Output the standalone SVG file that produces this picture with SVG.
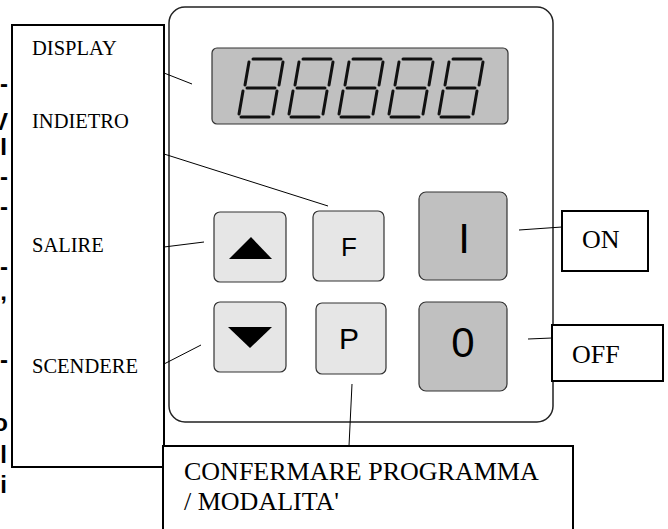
<svg xmlns="http://www.w3.org/2000/svg" width="668" height="529" viewBox="0 0 668 529">
<defs>
<style>
.lbl{font-family:"Liberation Serif","Times New Roman",serif;fill:#000}
.key{font-family:"Liberation Sans",Arial,sans-serif;fill:#000;text-anchor:middle}
.frag{font-family:"Liberation Sans",Arial,sans-serif;font-weight:bold;font-size:24px;fill:#000;text-anchor:end}
.box{fill:#fff;stroke:#000;stroke-width:2}
.btn{fill:#e6e6e6;stroke:#333;stroke-width:1.2}
.btnd{fill:#c0c0c0;stroke:#333;stroke-width:1.2}
.seg{stroke:#111;stroke-width:3;stroke-linecap:round;fill:none}
.conn{stroke:#000;stroke-width:1;fill:none}
</style>
<g id="digit">
<line class="seg" x1="253" y1="59" x2="281" y2="59"/>
<line class="seg" x1="249" y1="62" x2="245" y2="85"/>
<line class="seg" x1="283" y1="62" x2="279" y2="85"/>
<line class="seg" x1="247" y1="88" x2="275" y2="88"/>
<line class="seg" x1="243" y1="91" x2="239" y2="114"/>
<line class="seg" x1="277" y1="91" x2="273" y2="114"/>
<line class="seg" x1="241" y1="117" x2="269" y2="117"/>
</g>
</defs>
<rect width="668" height="529" fill="#fff"/>
<g id="fragments">
<text class="frag" x="8" y="92">-</text>
<text class="frag" x="8" y="130">V</text>
<text class="frag" x="7" y="155">I</text>
<text class="frag" x="8" y="185">-</text>
<text class="frag" x="8" y="215">-</text>
<text class="frag" x="8" y="275">-</text>
<text class="frag" x="7" y="300">,</text>
<text class="frag" x="8" y="368">-</text>
<text class="frag" x="8" y="431">o</text>
<text class="frag" x="7" y="463">l</text>
<text class="frag" x="7" y="493">i</text>
</g>
<g id="panel">
<rect x="169" y="7" width="384" height="415" rx="16" fill="#fff" stroke="#222" stroke-width="1.5"/>
</g>
<g id="display">
<rect x="212" y="48" width="296" height="76" rx="5" fill="#c0c0c0" stroke="#333" stroke-width="1.2"/>
<use href="#digit"/>
<use href="#digit" x="50"/>
<use href="#digit" x="100"/>
<use href="#digit" x="150"/>
<use href="#digit" x="200"/>
</g>
<g id="btn-up">
<rect class="btn" x="214" y="212" width="72" height="70" rx="6"/>
<polygon points="229,259 272,259 251,237" fill="#000"/>
</g>
<g id="btn-f">
<rect class="btn" x="313" y="211" width="71" height="70" rx="6"/>
<text class="key" x="349" y="256" font-size="26">F</text>
</g>
<g id="btn-on">
<rect class="btnd" x="419" y="192" width="88" height="88" rx="7"/>
<text class="key" x="464" y="253" font-size="42">I</text>
</g>
<g id="btn-down">
<rect class="btn" x="214" y="302" width="72" height="70" rx="6"/>
<polygon points="228,327 272,327 250,348" fill="#000"/>
</g>
<g id="btn-p">
<rect class="btn" x="316" y="303" width="70" height="71" rx="6"/>
<text class="key" x="349" y="349" font-size="30">P</text>
</g>
<g id="btn-off">
<rect class="btnd" x="419" y="302" width="88" height="89" rx="7"/>
<text class="key" x="463" y="357" font-size="42">0</text>
</g>
<g id="labels-box">
<rect class="box" x="12" y="25" width="152" height="442"/>
<text class="lbl" x="32" y="55" font-size="20.5">DISPLAY</text>
<text class="lbl" x="32" y="128" font-size="20.5">INDIETRO</text>
<text class="lbl" x="32" y="252" font-size="20.5">SALIRE</text>
<text class="lbl" x="32" y="373" font-size="20.5">SCENDERE</text>
</g>
<g id="on-box">
<rect class="box" x="562" y="211" width="86" height="60"/>
<text class="lbl" x="582" y="248" font-size="26">ON</text>
</g>
<g id="off-box">
<rect class="box" x="552" y="325" width="111" height="56"/>
<text class="lbl" x="572" y="363" font-size="26">OFF</text>
</g>
<g id="confirm-box">
<rect class="box" x="163" y="446" width="410" height="100"/>
<text class="lbl" x="184" y="480" font-size="26">CONFERMARE PROGRAMMA</text>
<text class="lbl" x="184" y="510" font-size="26">/ MODALITA'</text>
</g>
<g id="connectors">
<line class="conn" x1="164" y1="73" x2="192" y2="84"/>
<line class="conn" x1="164" y1="154" x2="328" y2="206"/>
<line class="conn" x1="164" y1="247" x2="204" y2="242"/>
<line class="conn" x1="164" y1="364" x2="201" y2="345"/>
<line class="conn" x1="519" y1="230" x2="562" y2="227"/>
<line class="conn" x1="528" y1="339" x2="552" y2="338"/>
<line class="conn" x1="352" y1="384" x2="349" y2="446"/>
</g>
</svg>
